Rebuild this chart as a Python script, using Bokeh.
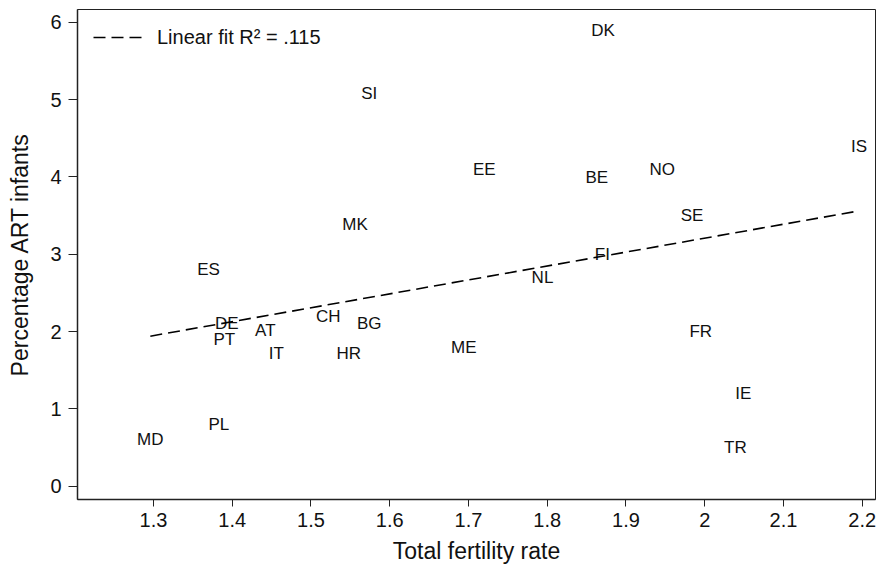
from bokeh.plotting import figure
from bokeh.models import ColumnDataSource, Range1d, FixedTicker, Legend, LegendItem
from bokeh.core.properties import value
from bokeh.embed import file_html
from bokeh.resources import INLINE

# Data
countries = ["DK", "SI", "IS", "EE", "BE", "NO", "MK", "SE", "ES", "FI", "NL", "DE",
             "PT", "AT", "IT", "CH", "BG", "HR", "ME", "FR", "IE", "TR", "MD", "PL"]
fertility = [1.871, 1.574, 2.196, 1.720, 1.863, 1.946, 1.556, 1.984, 1.370, 1.870, 1.794, 1.393,
             1.390, 1.442, 1.456, 1.522, 1.574, 1.548, 1.694, 1.995, 2.049, 2.039, 1.296, 1.383]
art_pct = [5.89, 5.08, 4.39, 4.09, 3.99, 4.09, 3.39, 3.50, 2.80, 2.99, 2.70, 2.10,
           1.90, 2.01, 1.72, 2.19, 2.10, 1.72, 1.79, 2.00, 1.20, 0.50, 0.60, 0.80]

fit_x = [1.296, 2.196]
fit_y = [1.94, 3.56]
fit_label = "Linear fit R\u00b2 = .115"

x_ticks = [1.3, 1.4, 1.5, 1.6, 1.7, 1.8, 1.9, 2.0, 2.1, 2.2]
x_tick_labels = ["1.3", "1.4", "1.5", "1.6", "1.7", "1.8", "1.9", "2", "2.1", "2.2"]
y_ticks = [0, 1, 2, 3, 4, 5, 6]

FONT = "Liberation Sans"

p = figure(width=881, height=566, output_backend="svg", toolbar_location=None,
           x_range=Range1d(1.2035, 2.2169), y_range=Range1d(-0.172, 6.164),
           min_border_left=77, min_border_top=9, min_border_right=6, min_border_bottom=67)

p.background_fill_color = "white"
p.border_fill_color = "white"
p.outline_line_color = "#222222"
p.outline_line_width = 1
p.xgrid.visible = False
p.ygrid.visible = False

src = ColumnDataSource(dict(x=fertility, y=art_pct, lab=countries))
p.text(x="x", y="y", text="lab", source=src, text_align="center", text_baseline="middle",
       text_font=value(FONT), text_font_size="17px", text_color="#111111")

fit = p.line(fit_x, fit_y, line_color="black", line_width=1.6, line_dash="12 6")

legend = Legend(items=[LegendItem(label=fit_label, renderers=[fit])], location=(16, 450))
legend.label_text_font = FONT
legend.label_text_font_size = "20px"
legend.label_text_color = "#111111"
legend.glyph_width = 50
legend.glyph_height = 24
legend.label_height = 24
legend.label_standoff = 14
legend.border_line_color = None
legend.background_fill_alpha = 0
legend.margin = 0
legend.padding = 0
p.add_layout(legend)

for ax in (p.xaxis[0], p.yaxis[0]):
    ax.axis_line_color = "#222222"
    ax.axis_line_width = 1.5
    ax.major_tick_line_color = "#222222"
    ax.major_tick_in = 0
    ax.minor_tick_line_color = None
    ax.major_label_text_font = FONT
    ax.major_label_text_font_size = "20px"
    ax.major_label_text_color = "#111111"
    ax.axis_label_text_font = FONT
    ax.axis_label_text_font_size = "23px"
    ax.axis_label_text_font_style = "normal"
    ax.axis_label_text_color = "#111111"

p.xaxis.ticker = FixedTicker(ticks=x_ticks)
p.xaxis.major_label_overrides = {t: l for t, l in zip(x_ticks, x_tick_labels)}
p.xaxis.major_tick_out = 7
p.xaxis.major_label_standoff = 6
p.xaxis.axis_label = "Total fertility rate"
p.xaxis.axis_label_standoff = 8

p.yaxis.ticker = FixedTicker(ticks=y_ticks)
p.yaxis.major_tick_out = 9
p.yaxis.major_label_standoff = 7
p.yaxis.axis_label = "Percentage ART infants"
p.yaxis.axis_label_standoff = 14

open("out.html", "w").write(file_html(p, INLINE))
